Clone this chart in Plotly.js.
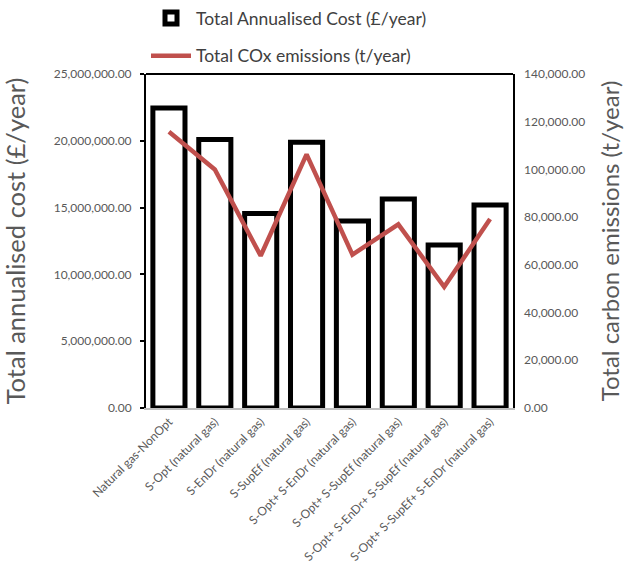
<!DOCTYPE html>
<html>
<head>
<meta charset="utf-8">
<script src="https://cdn.plot.ly/plotly-3.0.1.min.js"></script>
<style>html,body{margin:0;padding:0;background:#fff;}#chart{width:624px;height:575px;}</style>
</head>
<body>
<div id="chart"></div>
<script>
const categories = [
  "Natural gas-NonOpt",
  "S-Opt (natural gas)",
  "S-EnDr (natural gas)",
  "S-SupEf (natural gas)",
  "S-Opt+ S-EnDr (natural gas)",
  "S-Opt+ S-SupEf (natural gas)",
  "S-Opt+ S-EnDr+ S-SupEf (natural gas)",
  "S-Opt+ S-SupEf+ S-EnDr (natural gas)"
];
const annualisedCost = [22450000, 20100000, 14550000, 19900000, 14000000, 15650000, 12200000, 15200000];
const coxEmissions = [115800, 100000, 63800, 106300, 64300, 77000, 50800, 79200];
const costTicks = [0, 5000000, 10000000, 15000000, 20000000, 25000000];
const emissionTicks = [0, 20000, 40000, 60000, 80000, 100000, 120000, 140000];

const FONT = "Lato, 'Liberation Sans', sans-serif";
const GREY = "#595959";

const traces = [
  {
    type: "bar",
    name: "Total Annualised Cost (£/year)",
    x: categories,
    y: annualisedCost,
    width: 0.7,
    marker: {color: "#ffffff", line: {color: "#000000", width: 5}},
    legendgroup: "a"
  },
  {
    type: "scatter",
    mode: "lines",
    name: "Total COx emissions (t/year)",
    x: categories,
    y: coxEmissions,
    yaxis: "y2",
    line: {color: "#C0504D", width: 4.5},
    legendgroup: "b"
  }
];

const layout = {
  width: 624,
  height: 575,
  margin: {l: 146, r: 111, t: 71, b: 167},
  paper_bgcolor: "#ffffff",
  plot_bgcolor: "#ffffff",
  font: {family: FONT, color: GREY},
  bargap: 0.3,
  showlegend: true,
  legend: {
    x: 0, xanchor: "left",
    y: 1, yref: "container", yanchor: "top",
    font: {size: 17.5, color: "#404040", family: FONT},
    traceorder: "grouped",
    tracegroupgap: 12,
    itemwidth: 40,
    bgcolor: "rgba(0,0,0,0)"
  },
  xaxis: {
    tickangle: -45,
    tickfont: {size: 12, color: GREY},
    showline: true,
    linecolor: "#bfbfbf",
    linewidth: 2,
    ticks: "",
    showgrid: false,
    zeroline: false
  },
  yaxis: {
    range: [0, 25000000],
    tickvals: costTicks,
    tickformat: ",.2f",
    tickfont: {size: 12, color: GREY},
    ticklabelstandoff: 6,
    showline: true,
    linecolor: "#000000",
    linewidth: 2,
    mirror: true,
    ticks: "outside",
    ticklen: 4,
    tickwidth: 2,
    tickcolor: "#000000",
    showgrid: false,
    zeroline: false,
    title: {text: "Total annualised cost (£/year)", font: {size: 25.5, color: GREY}, standoff: 22}
  },
  yaxis2: {
    overlaying: "y",
    side: "right",
    range: [0, 140000],
    tickvals: emissionTicks,
    tickformat: ",.2f",
    tickfont: {size: 12, color: GREY},
    ticklabelstandoff: 10,
    showline: false,
    ticks: "",
    showgrid: false,
    zeroline: false,
    title: {text: "Total carbon emissions (t/year)", font: {size: 24, color: GREY}, standoff: 20}
  },
  shapes: [
    {type: "line", xref: "paper", yref: "paper", x0: 0, x1: 1, y0: 1, y1: 1, line: {color: "#000000", width: 2}}
  ]
};

Plotly.newPlot("chart", traces, layout, {displayModeBar: false, staticPlot: true});
</script>
</body>
</html>
